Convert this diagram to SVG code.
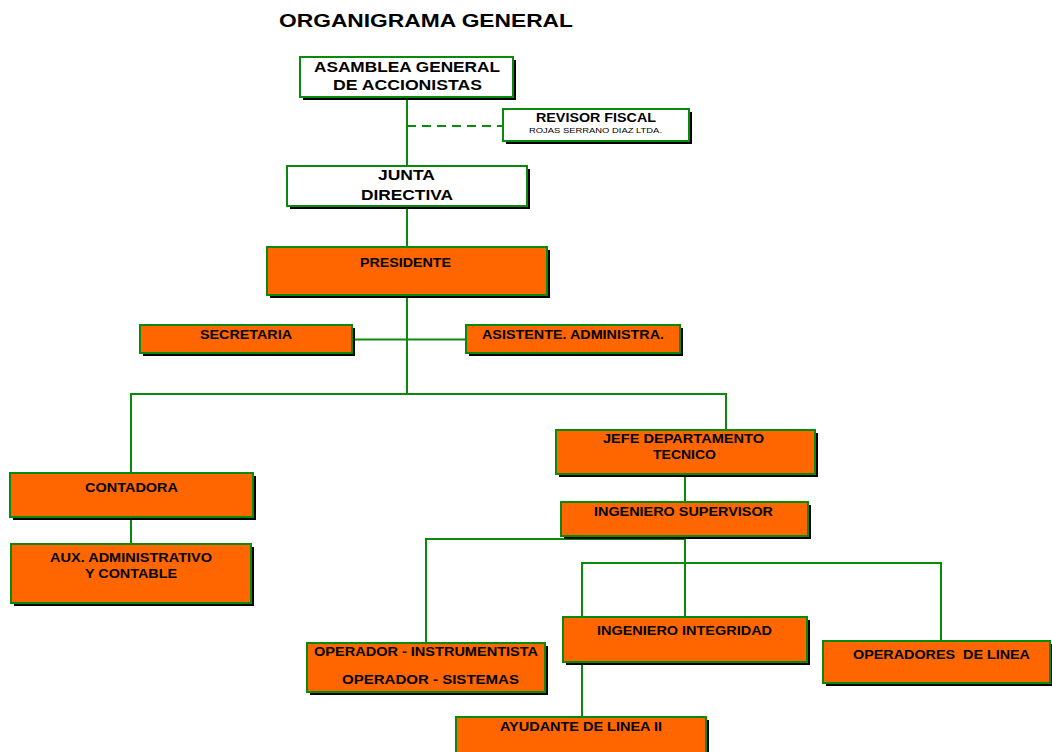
<svg xmlns="http://www.w3.org/2000/svg" width="1052" height="752" viewBox="0 0 1052 752">
<style>
text{font-family:"Liberation Sans",Arial,sans-serif;font-weight:bold;fill:#000;white-space:pre}
.t{font-size:12px}
.w{fill:#fff;stroke:#0a8a0a;stroke-width:2}
.o{fill:#ff6600;stroke:#0a8a0a;stroke-width:2}
.s{fill:#000}
.c{stroke:#0a8a0a;stroke-width:2;fill:none}
</style>
<rect width="1052" height="752" fill="#fff"/>
<text x="279" y="27" font-size="19" textLength="294" lengthAdjust="spacingAndGlyphs">ORGANIGRAMA GENERAL</text>
<g id="connectors">
<line class="c" x1="407" y1="97" x2="407" y2="166"/>
<line class="c" x1="407" y1="126" x2="503" y2="126" stroke-dasharray="9,6"/>
<line class="c" x1="407" y1="206" x2="407" y2="247"/>
<line class="c" x1="407" y1="295" x2="407" y2="395"/>
<line class="c" x1="352" y1="339.5" x2="466" y2="339.5" stroke-width="1.5"/>
<line class="c" x1="130" y1="394" x2="727" y2="394"/>
<line class="c" x1="131" y1="394" x2="131" y2="473"/>
<line class="c" x1="726" y1="394" x2="726" y2="430"/>
<line class="c" x1="131" y1="517" x2="131" y2="544"/>
<line class="c" x1="685" y1="474" x2="685" y2="502"/>
<line class="c" x1="685" y1="536" x2="685" y2="617"/>
<line class="c" x1="425" y1="539" x2="686" y2="539"/>
<line class="c" x1="426" y1="539" x2="426" y2="643"/>
<line class="c" x1="581" y1="563" x2="942" y2="563"/>
<line class="c" x1="582" y1="563" x2="582" y2="617"/>
<line class="c" x1="941" y1="563" x2="941" y2="641"/>
<line class="c" x1="582" y1="662" x2="582" y2="717"/>
</g>
<g id="asamblea">
<rect class="s" x="303" y="60" width="213" height="40"/>
<rect class="w" x="300" y="57" width="213" height="40"/>
<text x="314" y="72" font-size="14" textLength="186" lengthAdjust="spacingAndGlyphs">ASAMBLEA GENERAL</text>
<text x="333" y="90" font-size="14" textLength="149" lengthAdjust="spacingAndGlyphs">DE ACCIONISTAS</text>
</g>
<g id="revisor">
<rect class="s" x="506" y="112" width="186" height="32"/>
<rect class="w" x="503" y="109" width="186" height="32"/>
<text x="536" y="122" font-size="12" textLength="120" lengthAdjust="spacingAndGlyphs">REVISOR FISCAL</text>
<text x="529" y="133" font-size="7" textLength="133" lengthAdjust="spacingAndGlyphs" style="font-weight:normal">ROJAS SERRANO DIAZ LTDA.</text>
</g>
<g id="junta">
<rect class="s" x="290" y="169" width="240" height="40"/>
<rect class="w" x="287" y="166" width="240" height="40"/>
<text x="378" y="180" font-size="14" textLength="57" lengthAdjust="spacingAndGlyphs">JUNTA</text>
<text x="361" y="200" font-size="14" textLength="92" lengthAdjust="spacingAndGlyphs">DIRECTIVA</text>
</g>
<g id="presidente">
<rect class="s" x="270" y="250" width="280" height="48"/>
<rect class="o" x="267" y="247" width="280" height="48"/>
<text class="t" x="360" y="267" textLength="91" lengthAdjust="spacingAndGlyphs">PRESIDENTE</text>
</g>
<g id="secretaria">
<rect class="s" x="143" y="328" width="212" height="28"/>
<rect class="o" x="140" y="325" width="212" height="28"/>
<text class="t" x="200" y="339" textLength="92" lengthAdjust="spacingAndGlyphs">SECRETARIA</text>
</g>
<g id="asistente">
<rect class="s" x="469" y="328" width="214" height="28"/>
<rect class="o" x="466" y="325" width="214" height="28"/>
<text class="t" x="482" y="339" textLength="182" lengthAdjust="spacingAndGlyphs">ASISTENTE. ADMINISTRA.</text>
</g>
<g id="contadora">
<rect class="s" x="13" y="476" width="243" height="44"/>
<rect class="o" x="10" y="473" width="243" height="44"/>
<text class="t" x="85" y="492" textLength="93" lengthAdjust="spacingAndGlyphs">CONTADORA</text>
</g>
<g id="aux">
<rect class="s" x="14" y="547" width="240" height="59"/>
<rect class="o" x="11" y="544" width="240" height="59"/>
<text class="t" x="50" y="562" textLength="162" lengthAdjust="spacingAndGlyphs">AUX. ADMINISTRATIVO</text>
<text class="t" x="85" y="578" textLength="92" lengthAdjust="spacingAndGlyphs">Y CONTABLE</text>
</g>
<g id="jefe">
<rect class="s" x="559" y="433" width="259" height="44"/>
<rect class="o" x="556" y="430" width="259" height="44"/>
<text class="t" x="603" y="443" textLength="161" lengthAdjust="spacingAndGlyphs">JEFE DEPARTAMENTO</text>
<text class="t" x="653" y="459" textLength="63" lengthAdjust="spacingAndGlyphs">TECNICO</text>
</g>
<g id="ingsup">
<rect class="s" x="564" y="505" width="247" height="34"/>
<rect class="o" x="561" y="502" width="247" height="34"/>
<text class="t" x="594" y="516" textLength="179" lengthAdjust="spacingAndGlyphs">INGENIERO SUPERVISOR</text>
</g>
<g id="operador">
<rect class="s" x="310" y="646" width="238" height="49"/>
<rect class="o" x="307" y="643" width="238" height="49"/>
<text class="t" x="314" y="656" textLength="224" lengthAdjust="spacingAndGlyphs">OPERADOR - INSTRUMENTISTA</text>
<text class="t" x="342" y="684" textLength="177" lengthAdjust="spacingAndGlyphs">OPERADOR - SISTEMAS</text>
</g>
<g id="ingint">
<rect class="s" x="566" y="620" width="244" height="45"/>
<rect class="o" x="563" y="617" width="244" height="45"/>
<text class="t" x="597" y="635" textLength="175" lengthAdjust="spacingAndGlyphs">INGENIERO INTEGRIDAD</text>
</g>
<g id="oplinea">
<rect class="s" x="826" y="644" width="227" height="42"/>
<rect class="o" x="823" y="641" width="227" height="42"/>
<text class="t" x="853" y="659" textLength="177" lengthAdjust="spacingAndGlyphs">OPERADORES  DE LINEA</text>
</g>
<g id="ayudante">
<rect class="s" x="459" y="720" width="250" height="40"/>
<rect class="o" x="456" y="717" width="250" height="40"/>
<text class="t" x="500" y="731" textLength="162" lengthAdjust="spacingAndGlyphs">AYUDANTE DE LINEA II</text>
</g>
</svg>
